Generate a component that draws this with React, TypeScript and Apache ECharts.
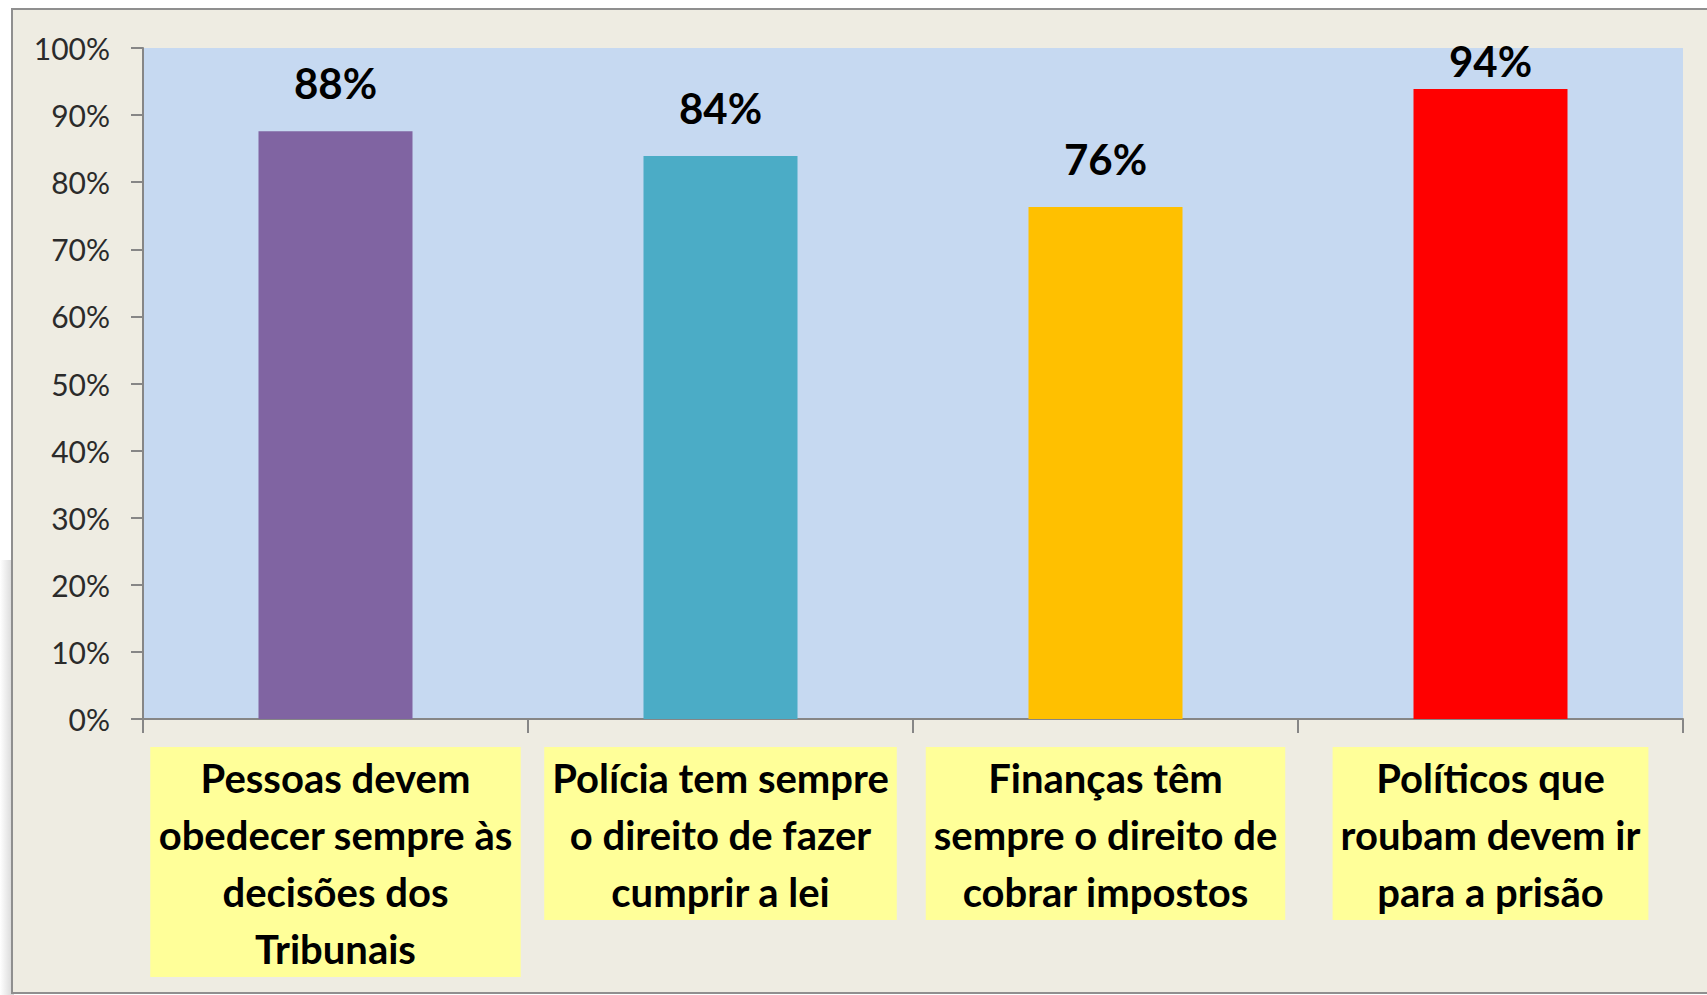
import React, { useEffect, useRef } from "react";
import * as echarts from "echarts";

const categories = [
  "Pessoas devem\nobedecer sempre às\ndecisões dos\nTribunais",
  "Polícia tem sempre\no direito de fazer\ncumprir a lei",
  "Finanças têm\nsempre o direito de\ncobrar impostos",
  "Políticos que\nroubam devem ir\npara a prisão",
];
const values = [87.6, 83.9, 76.3, 93.9];
const labels = ["88%", "84%", "76%", "94%"];
const barColors = ["#8064A2", "#4BACC6", "#FFC000", "#FF0000"];
const labelDistances = [27, 27, 27, 7];
const yTicks = { min: 0, max: 100, interval: 10 };

const FONT = "Lato, 'Open Sans', sans-serif";

export default function App() {
  const ref = useRef<HTMLDivElement>(null);
  useEffect(() => {
    if (!ref.current) return;
    const chart = echarts.init(ref.current, undefined, { renderer: "svg" });
    chart.setOption({
      animation: false,
      backgroundColor: "#ffffff",
      textStyle: { fontFamily: FONT },
      graphic: [
        {
          type: "rect",
          z: -10,
          shape: { x: 0, y: 560, width: 14, height: 435 },
          style: {
            fill: new echarts.graphic.LinearGradient(0, 0, 1, 0, [
              { offset: 0, color: "#ffffff" },
              { offset: 1, color: "#d4d4d4" },
            ]),
          },
          silent: true,
        },
        {
          type: "rect",
          z: -10,
          shape: { x: 12, y: 9, width: 1710, height: 984 },
          style: { fill: "#EEECE2", stroke: "#8F8F8F", lineWidth: 2 },
          silent: true,
        },
      ],
      grid: {
        left: 143,
        top: 48,
        right: 24,
        bottom: 276,
        show: true,
        backgroundColor: "#C6D9F1",
        borderWidth: 0,
        containLabel: false,
      },
      xAxis: {
        type: "category",
        data: categories,
        axisLine: { show: true, lineStyle: { color: "#868686", width: 2 } },
        axisTick: {
          show: true,
          alignWithLabel: false,
          length: 14,
          lineStyle: { color: "#868686", width: 2 },
        },
        axisLabel: {
          interval: 0,
          margin: 28,
          fontFamily: FONT,
          fontSize: 40,
          fontWeight: "bold",
          color: "#000000",
          backgroundColor: "#FFFF99",
          padding: [2, 8, 0, 8],
          lineHeight: 57,
          align: "center",
        },
      },
      yAxis: {
        type: "value",
        min: yTicks.min,
        max: yTicks.max,
        interval: yTicks.interval,
        axisLine: { show: true, lineStyle: { color: "#868686", width: 2 } },
        axisTick: { show: true, length: 12, lineStyle: { color: "#868686", width: 2 } },
        splitLine: { show: false },
        axisLabel: {
          formatter: "{value}%",
          margin: 33,
          fontFamily: FONT,
          fontSize: 30,
          color: "#2b2b2b",
        },
      },
      series: [
        {
          type: "bar",
          barWidth: "40%",
          data: values.map((v, i) => ({
            value: v,
            itemStyle: { color: barColors[i] },
            label: {
              show: true,
              position: "top",
              distance: labelDistances[i],
              formatter: labels[i],
              fontFamily: FONT,
              fontSize: 42,
              fontWeight: "bold",
              color: "#000000",
            },
          })),
        },
      ],
    });
    return () => chart.dispose();
  }, []);
  return (
    <div
      ref={ref}
      style={{ position: "fixed", left: 0, top: 0, width: 1707, height: 995 }}
    />
  );
}
